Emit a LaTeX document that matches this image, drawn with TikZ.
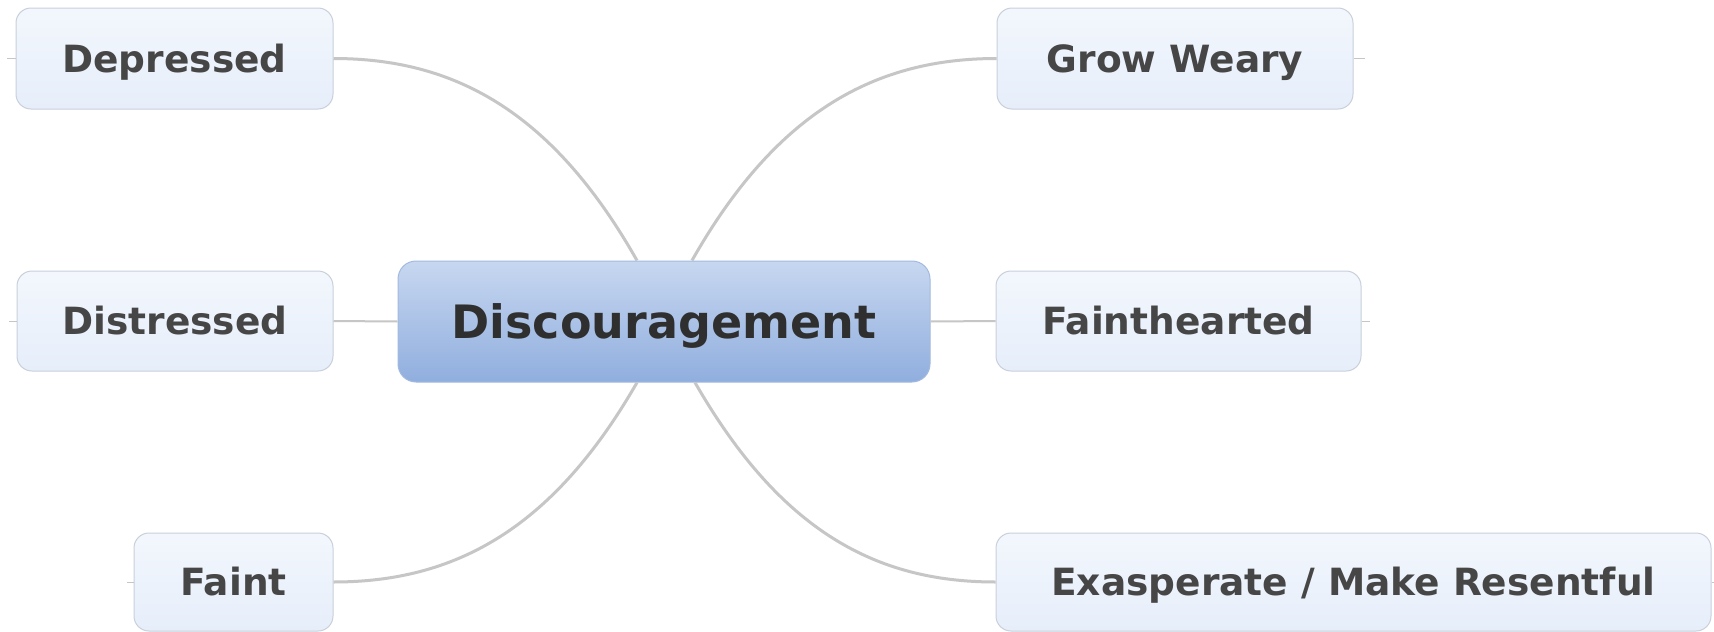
\documentclass[tikz,border=0pt]{standalone}
\usepackage{fontspec}
\setmainfont{DejaVu Sans}
\usetikzlibrary{calc}
\definecolor{leaftop}{HTML}{F3F7FD}
\definecolor{leafbot}{HTML}{E6EEFA}
\definecolor{leafline}{HTML}{C9D0DB}
\definecolor{maintop}{HTML}{C7D7F0}
\definecolor{mainmid}{HTML}{9BB7E2}
\definecolor{mainbot}{HTML}{90AEDE}
\definecolor{mainline}{HTML}{A3BADF}
\definecolor{leaftext}{HTML}{464646}
\definecolor{maintext}{HTML}{2F2F2F}
\definecolor{conn}{HTML}{C6C6C6}
\tikzset{
  leaf/.style={draw=leafline, line width=1pt, rounded corners=15pt,
    top color=leaftop, bottom color=leafbot, inner sep=0pt,
    text=leaftext, font=\fontsize{37.5pt}{41pt}\selectfont\bfseries,
    text height=27.3pt, text depth=0pt},
  mainbox/.style={draw=mainline, line width=1pt, rounded corners=18pt,
    top color=maintop, middle color=mainmid, bottom color=mainbot, inner sep=0pt,
    text=maintext, font=\fontsize{46pt}{50pt}\selectfont\bfseries,
    text height=33.5pt, text depth=0pt,
    minimum width=532pt, minimum height=121pt},
  curve/.style={draw=conn, line width=3pt},
  straight/.style={draw=conn, line width=2pt},
  stub/.style={draw=conn, line width=1pt}
}
\begin{document}
\begin{tikzpicture}[x=1pt,y=-1pt]
\useasboundingbox (0,0) rectangle (1714,632);
\fill[white] (0,0) rectangle (1714,632);

\node[mainbox] (c) at (664,321.5) {Discouragement};

\node[leaf, minimum width=317pt, minimum height=101pt] (dep) at (174.5,58.5) {Depressed};
\node[leaf, minimum width=316pt, minimum height=100pt] (dis) at (175,321) {Distressed};
\node[leaf, minimum width=199pt, minimum height=98pt] (fa) at (233.5,582) {Faint};
\node[leaf, minimum width=356pt, minimum height=101pt] (gw) at (1175,58.5) {Grow Weary};
\node[leaf, minimum width=365pt, minimum height=100pt] (fh) at (1178.5,321) {Fainthearted};
\node[leaf, minimum width=715pt, minimum height=98pt] (ex) at (1353.5,582) {Exasperate / Make Resentful};

\draw[curve] ($(c.north)+(-27,0)$) .. controls +(-85,-150) and +(120,0) .. (dep.east);
\draw[curve] ($(c.north)+(28,0)$) .. controls +(85,-150) and +(-120,0) .. (gw.west);
\draw[curve] ($(c.south)+(-27,0)$) .. controls +(-85,148) and +(120,0) .. (fa.east);
\draw[curve] ($(c.south)+(31,0)$) .. controls +(85,148) and +(-120,0) .. (ex.west);
\draw[straight] (dis.east) -- (c.west);
\draw[straight] (c.east) -- (fh.west);

\draw[stub] (dep.west) -- ++(-9,0);
\draw[stub] (dis.west) -- ++(-8,0);
\draw[stub] (fa.west) -- ++(-7,0);
\draw[stub] (gw.east) -- ++(11,0);
\draw[stub] (fh.east) -- ++(8,0);
\draw[stub] (ex.east) -- ++(4,0);
\end{tikzpicture}
\end{document}
